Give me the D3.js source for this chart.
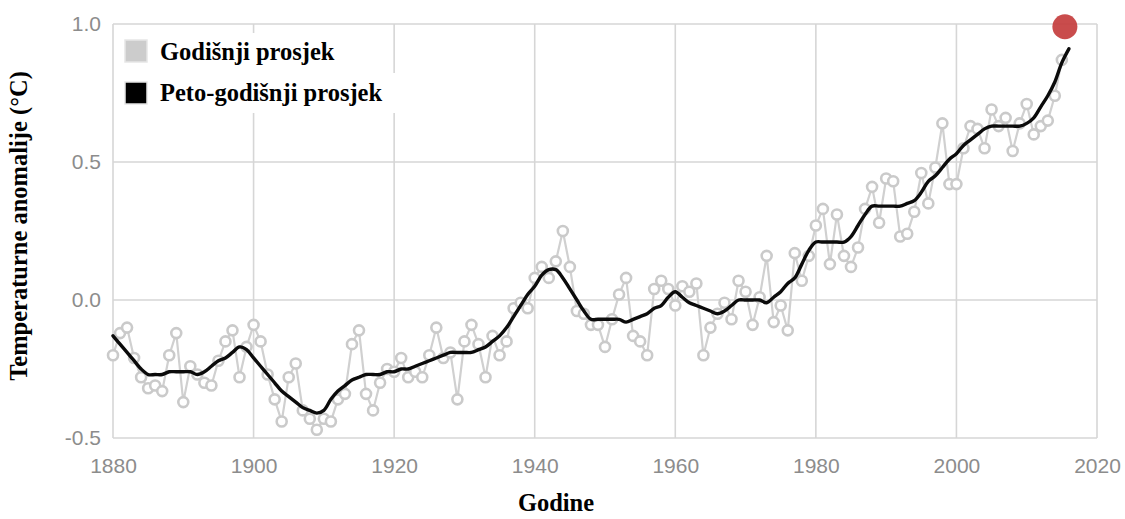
<!DOCTYPE html>
<html lang="hr">
<head>
    <meta charset="UTF-8">
    <title>Temperaturne anomalije</title>
    <style>
        html, body {
            margin: 0px;
            padding: 0px;
            background-color: white;
        }

        .grid line {
            stroke: #d6d6d6;
            stroke-width: 1.6px;
        }

        .tick text {
            fill: #8c8c8c;
            font-family: 'Liberation Sans', Arial, sans-serif;
            font-size: 21px;
        }

        text.title {
            font-family: 'Liberation Serif', 'Times New Roman', serif;
            font-weight: bold;
            font-size: 24.5px;
            fill: #000;
        }
    </style>
</head>
<body>
    <div id="vis"></div>
    <script src="https://d3js.org/d3.v7.min.js"></script>
    <script>

        // godine i godisnji prosjek (anomalija u °C)
        var years = d3.range(1880, 2017);

        var annual = [
            -0.20, -0.12, -0.10, -0.21, -0.28, -0.32, -0.31, -0.33, -0.20, -0.12,
            -0.37, -0.24, -0.27, -0.30, -0.31, -0.22, -0.15, -0.11, -0.28, -0.17,
            -0.09, -0.15, -0.27, -0.36, -0.44, -0.28, -0.23, -0.40, -0.43, -0.47,
            -0.43, -0.44, -0.36, -0.34, -0.16, -0.11, -0.34, -0.40, -0.30, -0.25,
            -0.26, -0.21, -0.28, -0.26, -0.28, -0.20, -0.10, -0.21, -0.19, -0.36,
            -0.15, -0.09, -0.16, -0.28, -0.13, -0.20, -0.15, -0.03, -0.01, -0.03,
             0.08,  0.12,  0.08,  0.14,  0.25,  0.12, -0.04, -0.05, -0.09, -0.09,
            -0.17, -0.07,  0.02,  0.08, -0.13, -0.15, -0.20,  0.04,  0.07,  0.04,
            -0.02,  0.05,  0.03,  0.06, -0.20, -0.10, -0.05, -0.01, -0.07,  0.07,
             0.03, -0.09,  0.01,  0.16, -0.08, -0.02, -0.11,  0.17,  0.07,  0.16,
             0.27,  0.33,  0.13,  0.31,  0.16,  0.12,  0.19,  0.33,  0.41,  0.28,
             0.44,  0.43,  0.23,  0.24,  0.32,  0.46,  0.35,  0.48,  0.64,  0.42,
             0.42,  0.55,  0.63,  0.62,  0.55,  0.69,  0.63,  0.66,  0.54,  0.64,
             0.71,  0.60,  0.63,  0.65,  0.74,  0.87,  0.99
        ];

        // peto-godisnji prosjek (ocitano s crne krivulje)
        var smooth = [
            -0.13, -0.16, -0.19, -0.22, -0.25, -0.27, -0.27, -0.27, -0.26, -0.26,
            -0.26, -0.26, -0.27, -0.26, -0.24, -0.22, -0.21, -0.19, -0.17, -0.18,
            -0.21, -0.24, -0.27, -0.30, -0.33, -0.35, -0.37, -0.39, -0.40, -0.41,
            -0.40, -0.36, -0.33, -0.31, -0.29, -0.28, -0.27, -0.27, -0.27, -0.26,
            -0.26, -0.25, -0.25, -0.24, -0.23, -0.22, -0.21, -0.20, -0.19, -0.19,
            -0.19, -0.19, -0.18, -0.17, -0.15, -0.13, -0.10, -0.06, -0.02,  0.02,
             0.05,  0.09,  0.11,  0.11,  0.08,  0.04,  0.00, -0.04, -0.07, -0.07,
            -0.07, -0.07, -0.07, -0.08, -0.07, -0.06, -0.05, -0.03, -0.02,  0.01,
             0.03,  0.01, -0.01, -0.02, -0.03, -0.04, -0.05, -0.04, -0.02, -0.00,
             0.00,  0.00,  0.00, -0.01,  0.01,  0.03,  0.06,  0.08,  0.13,  0.18,
             0.21,  0.21,  0.21,  0.21,  0.21,  0.23,  0.27,  0.31,  0.34,  0.34,
             0.34,  0.34,  0.34,  0.35,  0.36,  0.39,  0.43,  0.45,  0.48,  0.51,
             0.53,  0.56,  0.58,  0.60,  0.62,  0.63,  0.63,  0.63,  0.63,  0.63,
             0.64,  0.66,  0.70,  0.74,  0.79,  0.86,  0.91
        ];

        var xTicks = [1880, 1900, 1920, 1940, 1960, 1980, 2000, 2020];
        var yTicks = [-0.5, 0.0, 0.5, 1.0];

        var legendLabels = ["Godišnji prosjek", "Peto-godišnji prosjek"];
        var legendColors = ["#cccccc", "#000000"];

        var width = 1125;
        var height = 519;

        var svg = d3.select("#vis")
            .append("svg")
            .attr("width", width)
            .attr("height", height);

        var x_scale = d3.scaleLinear()
            .domain([1880, 2020])
            .range([113, 1097]);

        var y_scale = d3.scaleLinear()
            .domain([-0.5, 1.0])
            .range([438, 24]);

        // mreza
        var grid = svg.append("g").attr("class", "grid");

        grid.selectAll("line.v")
            .data(xTicks)
            .enter()
            .append("line")
            .attr("class", "v")
            .attr("x1", function(d){ return x_scale(d); })
            .attr("x2", function(d){ return x_scale(d); })
            .attr("y1", y_scale(1.0))
            .attr("y2", y_scale(-0.5));

        grid.selectAll("line.h")
            .data(yTicks)
            .enter()
            .append("line")
            .attr("class", "h")
            .attr("x1", x_scale(1880))
            .attr("x2", x_scale(2020))
            .attr("y1", function(d){ return y_scale(d); })
            .attr("y2", function(d){ return y_scale(d); });

        // osi
        var x_axis = d3.axisBottom(x_scale)
            .tickValues(xTicks)
            .tickFormat(d3.format("d"))
            .tickSize(0)
            .tickPadding(20);

        var y_axis = d3.axisLeft(y_scale)
            .tickValues(yTicks)
            .tickFormat(function(d){ return d3.format(".1f")(d).replace("−", "-"); })
            .tickSize(0)
            .tickPadding(12);

        svg.append("g")
            .attr("class", "x axis")
            .attr("transform", "translate(0," + y_scale(-0.5) + ")")
            .call(x_axis)
            .call(function(g){ g.select(".domain").remove(); });

        svg.append("g")
            .attr("class", "y axis")
            .attr("transform", "translate(" + x_scale(1880) + ",0)")
            .call(y_axis)
            .call(function(g){ g.select(".domain").remove(); });

        // godisnji prosjek - siva linija s kruzicima
        var points = years.map(function(y, i){ return [y, annual[i]]; });
        var smoothPts = years.map(function(y, i){ return [y, smooth[i]]; });

        var line = d3.line()
            .x(function(d){ return x_scale(d[0]); })
            .y(function(d){ return y_scale(d[1]); });

        svg.append("path")
            .datum(points.slice(0, points.length - 1))
            .attr("fill", "none")
            .attr("stroke", "#d0d0d0")
            .attr("stroke-width", 2.2)
            .attr("d", line);

        svg.selectAll(".dot")
            .data(points.slice(0, points.length - 1))
            .enter()
            .append("circle")
            .attr("class", "dot")
            .attr("cx", function(d){ return x_scale(d[0]); })
            .attr("cy", function(d){ return y_scale(d[1]); })
            .attr("r", 5)
            .attr("fill", "#ffffff")
            .attr("stroke", "#cacaca")
            .attr("stroke-width", 2.6);

        // peto-godisnji prosjek
        svg.append("path")
            .datum(smoothPts)
            .attr("fill", "none")
            .attr("stroke", "#0b0b0b")
            .attr("stroke-width", 3.4)
            .attr("stroke-linejoin", "round")
            .attr("stroke-linecap", "round")
            .attr("d", line.curve(d3.curveCatmullRom));

        // zadnja godina - crvena tocka
        var last = points[points.length - 1];
        svg.append("circle")
            .attr("cx", x_scale(last[0]) - 4)
            .attr("cy", y_scale(last[1]))
            .attr("r", 12.5)
            .attr("fill", "#c43d3d")
            .attr("opacity", 0.92);

        // legenda
        var legend = svg.append("g").attr("class", "legend");

        legend.selectAll("rect.bg")
            .data(legendLabels)
            .enter()
            .append("rect")
            .attr("class", "bg")
            .attr("x", 117)
            .attr("y", function(d, i){ return 33 + i * 40; })
            .attr("width", function(d, i){ return i == 0 ? 230 : 285; })
            .attr("height", 40)
            .attr("fill", "#ffffff");

        legend.selectAll("rect.key")
            .data(legendLabels)
            .enter()
            .append("rect")
            .attr("class", "key")
            .attr("x", 125)
            .attr("y", function(d, i){ return 40 + i * 42; })
            .attr("width", 22)
            .attr("height", 22)
            .attr("fill", function(d, i){ return legendColors[i]; })
            .attr("stroke", "#e6e6e6")
            .attr("stroke-width", 1.5);

        legend.selectAll("text")
            .data(legendLabels)
            .enter()
            .append("text")
            .attr("class", "title")
            .attr("x", 160)
            .attr("y", function(d, i){ return 60 + i * 41; })
            .text(function(d){ return d; });

        // naslovi osi
        svg.append("text")
            .attr("class", "title")
            .attr("text-anchor", "middle")
            .attr("transform", "translate(27," + 226 + ") rotate(-90)")
            .text("Temperaturne anomalije (°C)");

        svg.append("text")
            .attr("class", "title")
            .attr("text-anchor", "middle")
            .attr("x", 556)
            .attr("y", 511)
            .text("Godine");

    </script>
</body>
</html>
